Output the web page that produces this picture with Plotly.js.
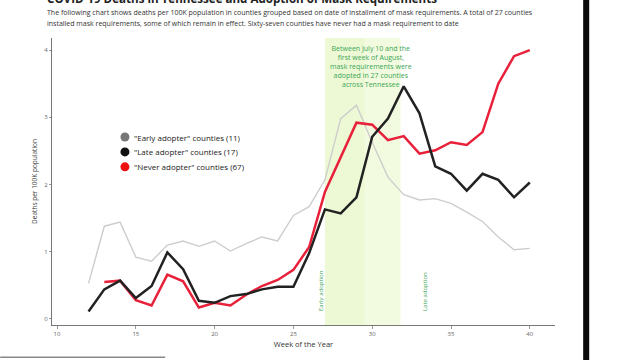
<!DOCTYPE html>
<html><head><meta charset="utf-8">
<script src="https://cdn.plot.ly/plotly-3.0.1.min.js"></script>
<style>html,body{margin:0;padding:0;background:#fff;}#chart{width:640px;height:360px;}</style>
</head><body><div id="chart"></div>
<script>
const weeksEarly = [12,13,14,15,16,17,18,19,20,21,22,23,24,25,26,27,28,29,30,31,32,33,34,35,36,37,38,39,40];
const earlyAdopter = [0.53,1.38,1.44,0.92,0.86,1.10,1.16,1.08,1.16,1.01,1.12,1.22,1.16,1.54,1.67,2.07,2.98,3.18,2.63,2.11,1.85,1.77,1.79,1.72,1.59,1.45,1.22,1.03,1.05];
const weeksLate = [12,13,14,15,16,17,18,19,20,21,22,23,24,25,26,27,28,29,30,31,32,33,34,35,36,37,38,39,40];
const lateAdopter = [0.11,0.44,0.57,0.31,0.49,0.99,0.74,0.27,0.24,0.34,0.37,0.44,0.48,0.48,0.98,1.63,1.57,1.81,2.71,2.98,3.46,3.06,2.27,2.16,1.91,2.16,2.07,1.81,2.03];
const weeksNever = [13,14,15,16,17,18,19,20,21,22,23,24,25,26,27,28,29,30,31,32,33,34,35,36,37,38,39,40];
const neverAdopter = [0.55,0.57,0.28,0.20,0.66,0.56,0.17,0.24,0.20,0.36,0.49,0.58,0.73,1.07,1.89,2.41,2.92,2.89,2.66,2.72,2.46,2.51,2.63,2.59,2.78,3.50,3.91,4.00];
const seriesNames = ['"Early adopter" counties (11)','"Late adopter" counties (17)','"Never adopter" counties (67)'];
const seriesColors = ['#777777','#111111','#ee1111'];
const xTicks = [10,15,20,25,30,35,40];
const yTicks = [0,1,2,3,4];

const green = '#3aa655';
const traces = [
  {x: weeksEarly, y: earlyAdopter, mode:'lines', name: seriesNames[0], line:{color:'#cdcdcd', width:1.4}, showlegend:false},
  {x: weeksNever, y: neverAdopter, mode:'lines', name: seriesNames[2], line:{color:'#e8203a', width:2.5}, showlegend:false},
  {x: weeksLate, y: lateAdopter, mode:'lines', name: seriesNames[1], line:{color:'#222222', width:2.5}, showlegend:false}
];

// legend drawn as pixel-sized circles + text
const legX = 0.145, legY0 = 0.655, legStep = 0.052;
const legendShapes = seriesColors.map((c,i)=>({type:'circle', xref:'paper', yref:'paper', xsizemode:'pixel', ysizemode:'pixel',
  xanchor:legX, yanchor:legY0 - i*legStep, x0:-4.5, x1:4.5, y0:-4.5, y1:4.5, fillcolor:c, line:{width:0}}));
const legendTexts = seriesNames.map((t,i)=>({xref:'paper', yref:'paper', x:legX+0.014, y:legY0 - i*legStep, xanchor:'left', yanchor:'middle',
  showarrow:false, text:t, font:{size:8, color:'#222'}}));

const layout = {
  width:640, height:360,
  margin:{l:52, r:85, t:38, b:35},
  paper_bgcolor:'#fff', plot_bgcolor:'#fff',
  font:{family:'Open Sans, DejaVu Sans, sans-serif', color:'#333'},
  showlegend:false,
  xaxis:{range:[9.68,41.6], tickvals:xTicks, ticktext:xTicks.map(String), showgrid:false, zeroline:false, showline:true, linecolor:'#777', linewidth:1, ticks:'outside', ticklen:3, tickcolor:'#999', tickfont:{size:6, color:'#666'},
    title:{text:'Week of the Year', font:{size:7.5, color:'#333'}, standoff:4}},
  yaxis:{range:[-0.09,4.18], tickvals:yTicks, ticktext:yTicks.map(String), showgrid:false, zeroline:false, showline:true, linecolor:'#777', linewidth:1, ticks:'outside', ticklen:2, tickcolor:'#999', tickfont:{size:6, color:'#666'},
    title:{text:'Deaths per 100K population', font:{size:6.5, color:'#444'}, standoff:6}},
  shapes:[
    {type:'rect', xref:'x', yref:'paper', x0:27.0, x1:31.8, y0:0, y1:1, fillcolor:'#f2fbdf', line:{width:0}, layer:'below'},
    {type:'rect', xref:'x', yref:'paper', x0:27.0, x1:29.5, y0:0, y1:1, fillcolor:'rgba(228,247,195,0.35)', line:{width:0}, layer:'below'},
    {type:'rect', xref:'paper', yref:'paper', x0:1.056, x1:1.068, y0:-0.2, y1:1.2, fillcolor:'#0a0a0a', line:{width:0}},
    {type:'line', xref:'paper', yref:'paper', x0:-0.103, x1:0.225, y0:-0.112, y1:-0.112, line:{color:'#888', width:1.5}}
  ].concat(legendShapes),
  annotations:[
    {xref:'paper', yref:'paper', x:-0.014, y:1.137, xanchor:'left', yanchor:'middle', showarrow:false,
     text:'<b>COVID-19 Deaths in Tennessee and Adoption of Mask Requirements</b>', font:{size:11.6, color:'#222'}},
    {xref:'paper', yref:'paper', x:-0.014, y:1.0896, xanchor:'left', yanchor:'middle', align:'left', showarrow:false,
     text:'The following chart shows deaths per 100K population in counties grouped based on date of installment of mask requirements. A total of 27 counties',
     font:{size:7, color:'#333'}},
    {xref:'paper', yref:'paper', x:-0.014, y:1.0509, xanchor:'left', yanchor:'middle', align:'left', showarrow:false,
     text:'installed mask requirements, some of which remain in effect. Sixty-seven counties have never had a mask requirement to date',
     font:{size:7, color:'#333'}},
    {xref:'x', yref:'paper', x:29.95, y:0.985, xanchor:'center', yanchor:'top', showarrow:false, align:'center',
     text:'Between July 10 and the<br>first week of August,<br>mask requirements were<br>adopted in 27 counties<br>across Tennessee', font:{size:7, color:green}},
    {xref:'x', yref:'y', x:26.75, y:0.43, textangle:-90, showarrow:false, text:'Early adoption', font:{size:6, color:green}},
    {xref:'x', yref:'y', x:33.35, y:0.40, textangle:-90, showarrow:false, text:'Late adoption', font:{size:6, color:green}}
  ].concat(legendTexts)
};
Plotly.newPlot('chart', traces, layout, {displayModeBar:false, staticPlot:true});
</script></body></html>
